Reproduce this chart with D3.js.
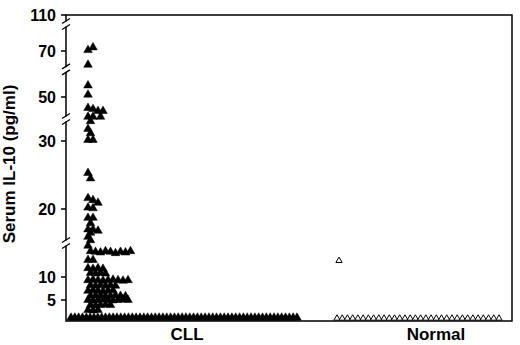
<!DOCTYPE html>
<html>
<head>
<meta charset="utf-8">
<script src="https://cdn.jsdelivr.net/npm/d3@7"></script>
<style>
  body { margin: 0; background: #fff; }
  svg { display: block; }
  text { font-family: "Liberation Sans", Arial, sans-serif; font-weight: bold; fill: #000; }
</style>
</head>
<body>
<div id="chart"></div>
<script>
// groups and axis ticks
const groups = ['CLL', 'Normal']
const yTicks = [5, 10, 20, 30, 50, 70, 110]
const yBreaks = [15, 40, 62, 100]
const yTitle = 'Serum IL-10 (pg/ml)'

// serum IL-10 values (0 = below detection)
const cllValues = [
    71, 74, 64, 55, 51, 45, 44.5, 43.6, 43.6, 41, 41, 41, 39, 35.5, 33.5, 30.5, 30.5,
    25.3, 24.5,
    21.6, 21.3, 20.9, 20.2, 20.1,
    18.7, 18.7, 17.9,
    17, 17, 16.8, 16.5,
    15.9, 15.4, 14.6,
    13.8, 13.7, 13.6, 13.8, 13.7, 13.5, 13.7, 13.6, 13.8,
    12.5, 12.5,
    11.3, 11.2, 11.3, 11.2,
    10.6, 10.5, 10.6, 10.5,
    9.3, 9.4, 9.3, 9.2, 9.3, 9.4, 9.3, 9.2, 9.3,
    8.2, 8.1, 8.2, 8.1, 8.2, 8.1,
    7, 7.1, 7, 6.9, 7, 7.1,
    5.9, 6, 5.9, 5.8, 5.9, 6, 5.9, 5.8,
    5, 4.9, 5, 5.1, 5, 4.9, 5, 5.1, 5,
    3.8, 3.7, 3.8, 3.9, 3.8,
    2.6, 2.5, 2.6,
    0, 0, 0, 0, 0, 0, 0, 0, 0, 0, 0, 0, 0, 0, 0, 0, 0, 0, 0, 0,
    0, 0, 0, 0, 0, 0, 0, 0, 0, 0, 0, 0, 0, 0, 0, 0, 0, 0, 0, 0,
    0, 0, 0, 0, 0, 0, 0, 0, 0, 0, 0, 0, 0, 0, 0, 0, 0, 0, 0, 0
]
const normalValues = [
    12.4,
    0, 0, 0, 0, 0, 0, 0, 0, 0, 0, 0, 0, 0, 0, 0, 0,
    0, 0, 0, 0, 0, 0, 0, 0, 0, 0, 0, 0, 0, 0, 0, 0
]

const width = 520, height = 345
const mLeft = 66, mRight = 512, mTop = 15, mBottom = 321

const svg = d3.select('#chart').append('svg')
    .attr('width', width).attr('height', height)

// broken y axis -> one piecewise linear scale
const y = d3.scaleLinear()
    .domain([0, 5, 10, 20, 30, 50, 70, 110])
    .range([mBottom, 300, 277, 209, 141, 97, 51, mTop])

const xLabel = d3.scalePoint().domain(groups).range([187, 436])

// where each group is drawn
const layout = {
    CLL: { swarm: 88, step: 2.5, row: [71, 297], size: 32, filled: true },
    Normal: { swarm: 339, step: 2.5, row: [337, 499], size: 17, filled: false }
}

// greedy dodge: rows fill to the right, neighbouring rows interleave
function placePoints(values, cfg) {
    const zeros = values.filter(v => v === 0)
    const rowX = d3.scalePoint().domain(d3.range(zeros.length)).range(cfg.row)
    const placed = []
    values.filter(v => v > 0).forEach(v => {
        const py = y(v)
        let k = 0
        const hit = cx => placed.some(p => {
            const dx = Math.abs(p.x - cx), dy = Math.abs(p.y - py)
            return (dy < 3 && dx < 4.8) || (dy < 6 && dx < 2.4)
        })
        while (hit(cfg.swarm + k * cfg.step)) k++
        placed.push({ v: v, x: cfg.swarm + k * cfg.step, y: py })
    })
    zeros.forEach((v, i) => placed.push({ v: v, x: rowX(i), y: y(v), base: true }))
    return placed
}

// frame
svg.append('path')
    .attr('d', `M${mLeft},${mTop}H${mRight}V${mBottom}H${mLeft}Z`)
    .attr('fill', 'none').attr('stroke', '#000').attr('stroke-width', 1.5)

// ticks
svg.append('g').selectAll('line').data(yTicks).enter().append('line')
    .attr('x1', mLeft - 5).attr('x2', mLeft)
    .attr('y1', d => y(d)).attr('y2', d => y(d))
    .attr('stroke', '#000').attr('stroke-width', 1.5)

svg.append('g').selectAll('text').data(yTicks).enter().append('text')
    .attr('x', 56).attr('y', d => y(d)).attr('dy', '0.36em')
    .attr('text-anchor', 'end').style('font-size', '16px')
    .text(d => d)

// axis breaks
const brk = svg.append('g').selectAll('g').data(yBreaks).enter().append('g')
    .attr('transform', d => `translate(${mLeft},${y(d)})`)
brk.append('rect').attr('x', -3).attr('y', -2.5).attr('width', 6).attr('height', 5).attr('fill', '#fff')
brk.append('path')
    .attr('d', 'M-4,-0.5L4,-5.5M-4,5.5L4,0.5')
    .attr('stroke', '#000').attr('stroke-width', 1.3).attr('fill', 'none')

// points
groups.forEach(g => {
    const cfg = layout[g]
    const vals = g === 'CLL' ? cllValues : normalValues
    const pts = placePoints(vals, cfg)
    const sym = d3.symbol().type(d3.symbolTriangle).size(cfg.size)
    const h = Math.sqrt(cfg.size * 4 / Math.sqrt(3)) * Math.sqrt(3) / 2
    svg.append('g').selectAll('path').data(pts).enter().append('path')
        .attr('d', sym)
        .attr('transform', d => `translate(${d.x},${d.base ? d.y - h / 3 - 0.8 : d.y})`)
        .attr('fill', cfg.filled ? '#000' : '#fff')
        .attr('stroke', '#000')
        .attr('stroke-width', cfg.filled ? 0.5 : 1)
})

// group labels
svg.append('g').selectAll('text').data(groups).enter().append('text')
    .attr('x', d => xLabel(d)).attr('y', 340)
    .attr('text-anchor', 'middle').style('font-size', '17px')
    .text(d => d)

// y title
svg.append('text')
    .attr('transform', 'translate(15,164) rotate(-90)')
    .attr('text-anchor', 'middle').style('font-size', '17px')
    .text(yTitle)
</script>
</body>
</html>
